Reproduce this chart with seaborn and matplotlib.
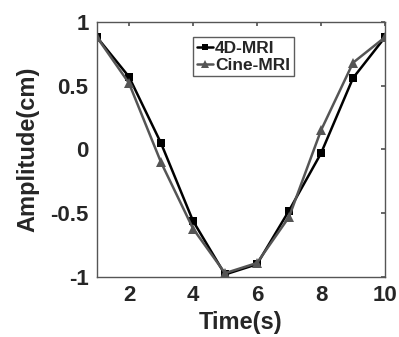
import pandas as pd
import matplotlib
matplotlib.use('Agg')
import matplotlib.pyplot as plt
import seaborn as sns

# data
time_s = [1, 2, 3, 4, 5, 6, 7, 8, 9, 10]
amp_4d = [0.88, 0.57, 0.05, -0.56, -0.98, -0.90, -0.48, -0.03, 0.56, 0.88]
amp_cine = [0.88, 0.52, -0.10, -0.62, -0.97, -0.89, -0.53, 0.15, 0.68, 0.88]

sns.set_theme(style="white")
plt.rcParams['font.family'] = ['Liberation Sans', 'DejaVu Sans']
plt.rcParams['font.weight'] = 'bold'

fig = plt.figure(figsize=(3.99, 3.37), dpi=100)
ax = fig.add_axes([0.243, 0.178, 0.722, 0.757])

# two series, drawn one by one so marker sizes can differ
sns.lineplot(x=time_s, y=amp_4d, color='#000000', marker='s', markersize=5.8,
             markeredgewidth=0, linewidth=1.8, label='4D-MRI', ax=ax)
sns.lineplot(x=time_s, y=amp_cine, color='#555555', marker='^', markersize=7,
             markeredgewidth=0, linewidth=1.8, label='Cine-MRI', ax=ax)

ax.set_xlim(1, 10)
ax.set_ylim(-1, 1)
ax.set_xticks([2, 4, 6, 8, 10])
ax.set_yticks([-1, -0.5, 0, 0.5, 1])
ax.set_yticklabels(['-1', '-0.5', '0', '0.5', '1'])
ax.tick_params(direction='in', length=3, labelsize=16, top=True, right=True,
               color='#555555', pad=6)
for lbl in ax.get_xticklabels() + ax.get_yticklabels():
    lbl.set_fontweight('bold')
for s in ax.spines.values():
    s.set_color('#555555')
    s.set_linewidth(1)
ax.set_xlabel('Time(s)', fontsize=17, fontweight='bold', labelpad=3)
ax.set_ylabel('Amplitude(cm)', fontsize=17, fontweight='bold', labelpad=8)

leg = ax.legend(loc='upper left', bbox_to_anchor=(0.335, 0.94), fontsize=12.5,
                frameon=True, fancybox=False, handlelength=0.9,
                handletextpad=0.15, borderpad=0.2, labelspacing=0.1,
                borderaxespad=0, markerscale=0.85)
leg.get_frame().set_edgecolor('#333333')
leg.get_frame().set_linewidth(1)
for t in leg.get_texts():
    t.set_fontweight('bold')

plt.savefig('out.png', dpi=100)
